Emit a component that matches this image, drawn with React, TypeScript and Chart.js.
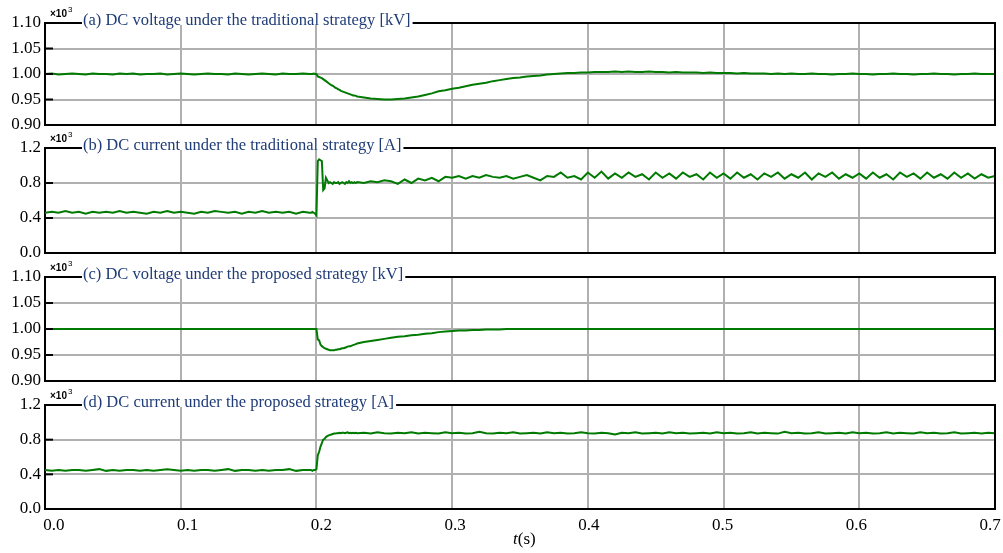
import React, { useEffect, useRef } from "react";
import { Chart, registerables } from "chart.js";

Chart.register(...registerables);

// ---------------- sample time grid (ms): [start, end, step] ----------------
const SAMPLE_SEGMENTS_MS: [number, number, number][] = [
  [0, 195, 5],
  [196, 229, 1],
  [230, 700, 5],
];
const TIME: number[] = [];
SAMPLE_SEGMENTS_MS.forEach(([s, e, st]) => {
  for (let k = s; k <= e; k += st) TIME.push(k / 1000);
});

// ---------------- (a) DC voltage, traditional strategy [x10^3 kV] ----------------
const A_PRE = [
  1.000, 1.001, 0.999, 1.000, 1.001, 1.000, 0.999, 1.001, 1.000, 1.000,
  0.999, 1.001, 1.000, 1.001, 0.999, 1.000, 1.000, 1.001, 0.999, 1.000,
  1.001, 1.000, 0.999, 1.000, 1.001, 1.000, 1.000, 0.999, 1.001, 1.000,
  0.999, 1.000, 1.001, 1.000, 0.999, 1.001, 1.000, 1.000, 1.001, 1.000,
];
const A_FAULT = [
  1.000, 1.000, 1.001, 1.000, 1.000, 0.995, 0.994, 0.993, 0.992, 0.990,
  0.988, 0.986, 0.984, 0.982, 0.980, 0.978, 0.977, 0.975, 0.973, 0.972,
  0.970, 0.969, 0.967, 0.966, 0.965, 0.964, 0.963, 0.962, 0.961, 0.960,
  0.959, 0.958, 0.958, 0.957,
];
const A_POST = [
  0.956, 0.954, 0.952, 0.951, 0.950, 0.950, 0.951, 0.952, 0.954, 0.956,
  0.959, 0.962, 0.966, 0.968, 0.971, 0.973, 0.976, 0.979, 0.981, 0.983,
  0.986, 0.988, 0.990, 0.992, 0.993, 0.995, 0.996, 0.997, 0.999, 1.000,
  1.001, 1.002, 1.002, 1.003, 1.003, 1.004, 1.004, 1.004, 1.005, 1.004,
  1.005, 1.004, 1.004, 1.005, 1.004, 1.004, 1.003, 1.004, 1.003, 1.003,
  1.003, 1.002, 1.003, 1.002, 1.002, 1.002, 1.001, 1.002, 1.001, 1.001,
  1.001, 1.000, 1.001, 1.000, 1.001, 1.000, 1.000, 1.001, 1.000, 1.000,
  0.999, 1.000, 1.000, 1.001, 1.000, 1.000, 0.999, 1.000, 1.000, 1.001,
  1.000, 1.000, 0.999, 1.000, 1.000, 1.001, 1.000, 1.000, 0.999, 1.000,
  1.000, 1.001, 1.000, 1.000, 1.000,
];

// ---------------- (b) DC current, traditional strategy [x10^3 A] ----------------
const B_PRE = [
  0.46, 0.47, 0.46, 0.48, 0.46, 0.47, 0.45, 0.47, 0.46, 0.47,
  0.46, 0.48, 0.46, 0.47, 0.46, 0.45, 0.47, 0.46, 0.48, 0.46,
  0.47, 0.46, 0.45, 0.47, 0.46, 0.48, 0.47, 0.46, 0.47, 0.45,
  0.47, 0.46, 0.48, 0.46, 0.47, 0.46, 0.47, 0.45, 0.47, 0.46,
];
const B_FAULT = [
  0.46, 0.47, 0.46, 0.45, 0.43, 1.05, 1.07, 1.06, 1.05, 0.72,
  0.74, 0.86, 0.83, 0.80, 0.81, 0.80, 0.79, 0.81, 0.80, 0.80,
  0.81, 0.79, 0.80, 0.81, 0.80, 0.79, 0.81, 0.80, 0.82, 0.80,
  0.81, 0.80, 0.81, 0.80,
];
const B_POST = [
  0.81, 0.80, 0.82, 0.81, 0.83, 0.82, 0.79, 0.84, 0.80, 0.85,
  0.83, 0.86, 0.82, 0.87, 0.86, 0.88, 0.85, 0.88, 0.86, 0.89,
  0.87, 0.86, 0.88, 0.85, 0.87, 0.89, 0.86, 0.83, 0.88, 0.87,
  0.92, 0.86, 0.88, 0.84, 0.92, 0.86, 0.93, 0.85, 0.91, 0.86,
  0.92, 0.87, 0.90, 0.84, 0.92, 0.86, 0.91, 0.85, 0.92, 0.87,
  0.90, 0.84, 0.92, 0.86, 0.91, 0.85, 0.92, 0.86, 0.90, 0.84,
  0.91, 0.87, 0.92, 0.85, 0.90, 0.86, 0.92, 0.84, 0.91, 0.87,
  0.92, 0.85, 0.90, 0.86, 0.91, 0.85, 0.92, 0.86, 0.90, 0.84,
  0.92, 0.87, 0.91, 0.85, 0.92, 0.86, 0.90, 0.85, 0.92, 0.86,
  0.91, 0.85, 0.90, 0.86, 0.88,
];

// ---------------- (c) DC voltage, proposed strategy [x10^3 kV] ----------------
const C_PRE = [
  1.000, 1.000, 1.000, 1.000, 1.000, 1.000, 1.000, 1.000, 1.000, 1.000,
  1.000, 1.000, 1.000, 1.000, 1.000, 1.000, 1.000, 1.000, 1.000, 1.000,
  1.000, 1.000, 1.000, 1.000, 1.000, 1.000, 1.000, 1.000, 1.000, 1.000,
  1.000, 1.000, 1.000, 1.000, 1.000, 1.000, 1.000, 1.000, 1.000, 1.000,
];
const C_FAULT = [
  1.000, 1.000, 1.000, 1.000, 1.000, 0.980, 0.978, 0.970, 0.967, 0.965,
  0.963, 0.962, 0.961, 0.960, 0.959, 0.959, 0.959, 0.959, 0.960, 0.960,
  0.961, 0.961, 0.962, 0.963, 0.963, 0.964, 0.965, 0.966, 0.967, 0.967,
  0.968, 0.969, 0.970, 0.971,
];
const C_POST = [
  0.972, 0.975, 0.977, 0.979, 0.981, 0.983, 0.985, 0.986, 0.988, 0.989,
  0.991, 0.992, 0.994, 0.995, 0.996, 0.997, 0.997, 0.998, 0.998, 0.999,
  0.999, 0.999, 1.000, 1.000, 1.000, 1.000, 1.000, 1.000, 1.000, 1.000,
  1.000, 1.000, 1.000, 1.000, 1.000, 1.000, 1.000, 1.000, 1.000, 1.000,
  1.000, 1.000, 1.000, 1.000, 1.000, 1.000, 1.000, 1.000, 1.000, 1.000,
  1.000, 1.000, 1.000, 1.000, 1.000, 1.000, 1.000, 1.000, 1.000, 1.000,
  1.000, 1.000, 1.000, 1.000, 1.000, 1.000, 1.000, 1.000, 1.000, 1.000,
  1.000, 1.000, 1.000, 1.000, 1.000, 1.000, 1.000, 1.000, 1.000, 1.000,
  1.000, 1.000, 1.000, 1.000, 1.000, 1.000, 1.000, 1.000, 1.000, 1.000,
  1.000, 1.000, 1.000, 1.000, 1.000,
];

// ---------------- (d) DC current, proposed strategy [x10^3 A] ----------------
const D_PRE = [
  0.45, 0.44, 0.45, 0.44, 0.45, 0.45, 0.44, 0.45, 0.46, 0.44,
  0.45, 0.44, 0.45, 0.45, 0.44, 0.45, 0.44, 0.45, 0.46, 0.45,
  0.44, 0.45, 0.44, 0.45, 0.45, 0.44, 0.45, 0.46, 0.44, 0.45,
  0.45, 0.44, 0.45, 0.44, 0.45, 0.45, 0.46, 0.44, 0.45, 0.45,
];
const D_FAULT = [
  0.45, 0.44, 0.45, 0.45, 0.46, 0.62, 0.66, 0.72, 0.76, 0.80,
  0.81, 0.83, 0.84, 0.85, 0.855, 0.86, 0.865, 0.87, 0.87, 0.875,
  0.875, 0.88, 0.875, 0.88, 0.88, 0.875, 0.88, 0.885, 0.875, 0.88,
  0.875, 0.88, 0.875, 0.88,
];
const D_POST = [
  0.875, 0.88, 0.87, 0.885, 0.875, 0.87, 0.88, 0.875, 0.885, 0.87,
  0.88, 0.875, 0.87, 0.885, 0.875, 0.88, 0.87, 0.875, 0.89, 0.875,
  0.87, 0.88, 0.875, 0.885, 0.87, 0.875, 0.88, 0.87, 0.885, 0.875,
  0.88, 0.87, 0.875, 0.885, 0.875, 0.87, 0.88, 0.875, 0.86, 0.88,
  0.875, 0.885, 0.87, 0.875, 0.88, 0.87, 0.885, 0.875, 0.88, 0.87,
  0.875, 0.88, 0.87, 0.885, 0.875, 0.88, 0.87, 0.875, 0.885, 0.87,
  0.88, 0.875, 0.87, 0.89, 0.875, 0.88, 0.87, 0.875, 0.885, 0.87,
  0.875, 0.88, 0.87, 0.885, 0.875, 0.88, 0.87, 0.875, 0.885, 0.87,
  0.88, 0.875, 0.87, 0.885, 0.875, 0.88, 0.87, 0.875, 0.885, 0.87,
  0.875, 0.88, 0.87, 0.88, 0.875,
];

const SERIES_A = [...A_PRE, ...A_FAULT, ...A_POST];
const SERIES_B = [...B_PRE, ...B_FAULT, ...B_POST];
const SERIES_C = [...C_PRE, ...C_FAULT, ...C_POST];
const SERIES_D = [...D_PRE, ...D_FAULT, ...D_POST];

const TITLES = [
  "(a) DC voltage under the traditional strategy [kV]",
  "(b) DC current under the traditional strategy [A]",
  "(c) DC voltage under the proposed strategy [kV]",
  "(d) DC current under the proposed strategy [A]",
];

const X_MIN = 0;
const X_MAX = 0.7;
const X_STEP = 0.1;
// the original figure's time labels sit on a slightly narrower span than its grid
const X_LABEL_MIN = -0.0066;
const X_LABEL_MAX = 0.7037;
const V_AXIS = { min: 0.9, max: 1.1, step: 0.05, decimals: 2 };
const I_AXIS = { min: 0.0, max: 1.2, step: 0.4, decimals: 1 };

// ---------------- styles / layout ----------------
const WIDTH = 1003;
const PLOT_LEFT = 45;
const PLOT_RIGHT = 995;
const GREEN = "rgb(0,122,0)";
const GRID = "#b0b0b0";
const TITLE_COLOR = "#1f3c78";
const SERIF = '"Liberation Serif", "Times New Roman", serif';

type PanelSpec = {
  title: string;
  values: number[];
  axis: { min: number; max: number; step: number; decimals: number };
  canvasTop: number;
  canvasHeight: number;
  plotTop: number;
  plotBottom: number;
  showX: boolean;
};

const PANELS: PanelSpec[] = [
  { title: TITLES[0], values: SERIES_A, axis: V_AXIS, canvasTop: 0, canvasHeight: 140, plotTop: 23, plotBottom: 125, showX: false },
  { title: TITLES[1], values: SERIES_B, axis: I_AXIS, canvasTop: 128, canvasHeight: 137, plotTop: 148, plotBottom: 253, showX: false },
  { title: TITLES[2], values: SERIES_C, axis: V_AXIS, canvasTop: 257, canvasHeight: 135, plotTop: 277, plotBottom: 381, showX: false },
  { title: TITLES[3], values: SERIES_D, axis: I_AXIS, canvasTop: 385, canvasHeight: 168, plotTop: 405, plotBottom: 509, showX: true },
];

const decorPlugin = {
  id: "panelDecor",
  afterDraw(chart: any, _args: any, opts: any) {
    const { ctx } = chart;
    const { left, right, top, bottom } = chart.chartArea;
    ctx.save();
    ctx.strokeStyle = "#000";
    ctx.lineWidth = 2;
    ctx.beginPath();
    ctx.moveTo(left, top);
    ctx.lineTo(right, top);
    ctx.lineTo(right, bottom);
    ctx.stroke();
    // inner tick stubs on y axis
    const ys = chart.scales.y;
    ys.ticks.forEach((t: any) => {
      const p = ys.getPixelForValue(t.value);
      ctx.beginPath();
      ctx.moveTo(left, p);
      ctx.lineTo(left + 8, p);
      ctx.stroke();
    });
    // title over the top frame line
    ctx.font = `16.5px ${SERIF}`;
    const tx = left + 38;
    const w = ctx.measureText(opts.title).width;
    ctx.fillStyle = "#fff";
    ctx.fillRect(tx - 1, top - 2, w + 3, 4);
    ctx.fillStyle = TITLE_COLOR;
    ctx.textBaseline = "middle";
    ctx.textAlign = "left";
    ctx.fillText(opts.title, tx, top - 2);
    // x10^3 multiplier
    ctx.fillStyle = "#000";
    ctx.textBaseline = "alphabetic";
    ctx.font = 'bold 10px "Liberation Sans", Arial, sans-serif';
    const mx = left + 5;
    ctx.fillText("×10", mx, top - 6);
    const mw = ctx.measureText("×10").width;
    ctx.font = '8px "Liberation Sans", Arial, sans-serif';
    ctx.fillText("3", mx + mw + 1, top - 11);
    // axis label t(s)
    if (opts.axisLabel) {
      const ax = 513;
      const ay = bottom + 35;
      ctx.font = `italic 17px ${SERIF}`;
      ctx.fillText("t", ax, ay);
      const tw = ctx.measureText("t").width;
      ctx.font = `17px ${SERIF}`;
      ctx.fillText("(s)", ax + tw, ay);
    }
    ctx.restore();
  },
};

function buildConfig(p: PanelSpec): any {
  const n = Math.min(TIME.length, p.values.length);
  const points = [];
  for (let i = 0; i < n; i++) points.push({ x: TIME[i], y: p.values[i] });
  const padTop = p.plotTop - p.canvasTop;
  const plotBottomLocal = p.plotBottom - p.canvasTop;
  const xHeight = p.showX ? p.canvasHeight - plotBottomLocal : 0;
  const padBottom = p.showX ? 0 : p.canvasHeight - plotBottomLocal;
  const tickFont = { family: SERIF, size: 17 };
  const scales: any = {
    x: {
      type: "linear",
      position: "bottom",
      weight: 0,
      min: X_MIN,
      max: X_MAX,
      ticks: { display: false, stepSize: X_STEP },
      grid: { color: GRID, lineWidth: 2, drawTicks: false },
      border: { display: true, color: "#000", width: 2 },
      afterFit: (s: any) => {
        s.height = 0;
        s.paddingLeft = 0;
        s.paddingRight = 0;
      },
    },
    y: {
      min: p.axis.min,
      max: p.axis.max,
      ticks: {
        stepSize: p.axis.step,
        padding: 4,
        color: "#000",
        font: tickFont,
        callback: (v: any) => Number(v).toFixed(p.axis.decimals),
      },
      grid: { color: GRID, lineWidth: 2, drawTicks: false },
      border: { display: true, color: "#000", width: 2 },
      afterFit: (s: any) => {
        s.width = PLOT_LEFT;
        s.paddingTop = 0;
        s.paddingBottom = 0;
      },
    },
  };
  if (p.showX) {
    scales.xLabels = {
      type: "linear",
      position: "bottom",
      weight: 1,
      min: X_LABEL_MIN,
      max: X_LABEL_MAX,
      ticks: {
        stepSize: X_STEP,
        includeBounds: false,
        autoSkip: false,
        maxRotation: 0,
        padding: 6,
        color: "#000",
        font: tickFont,
        callback: (v: any) => Number(v).toFixed(1),
      },
      grid: { display: false, drawTicks: false },
      border: { display: false },
      afterFit: (s: any) => {
        s.height = xHeight;
        s.paddingLeft = 0;
        s.paddingRight = 0;
      },
    };
  }
  return {
    type: "line",
    data: {
      datasets: [
        {
          data: points,
          xAxisID: "x",
          yAxisID: "y",
          borderColor: GREEN,
          borderWidth: 2,
          pointRadius: 0,
          fill: false,
          tension: 0,
        },
      ],
    },
    options: {
      animation: false,
      responsive: false,
      maintainAspectRatio: false,
      events: [],
      layout: { padding: { top: padTop, right: WIDTH - PLOT_RIGHT, bottom: padBottom, left: 0 } },
      plugins: {
        legend: { display: false },
        tooltip: { enabled: false },
        title: { display: false },
        panelDecor: { title: p.title, axisLabel: p.showX },
      },
      scales,
    },
    plugins: [decorPlugin],
  };
}

function Panel({ spec }: { spec: PanelSpec }) {
  const ref = useRef<HTMLCanvasElement | null>(null);
  useEffect(() => {
    if (!ref.current) return;
    const chart = new Chart(ref.current, buildConfig(spec));
    return () => chart.destroy();
  }, [spec]);
  return (
    <canvas
      ref={ref}
      width={WIDTH}
      height={spec.canvasHeight}
      style={{ position: "absolute", left: 0, top: spec.canvasTop, width: WIDTH, height: spec.canvasHeight }}
    />
  );
}

export default function App() {
  return (
    <div style={{ position: "absolute", left: 0, top: 0, width: WIDTH, height: 553, background: "#fff" }}>
      {PANELS.map((p, i) => (
        <Panel key={i} spec={p} />
      ))}
    </div>
  );
}
